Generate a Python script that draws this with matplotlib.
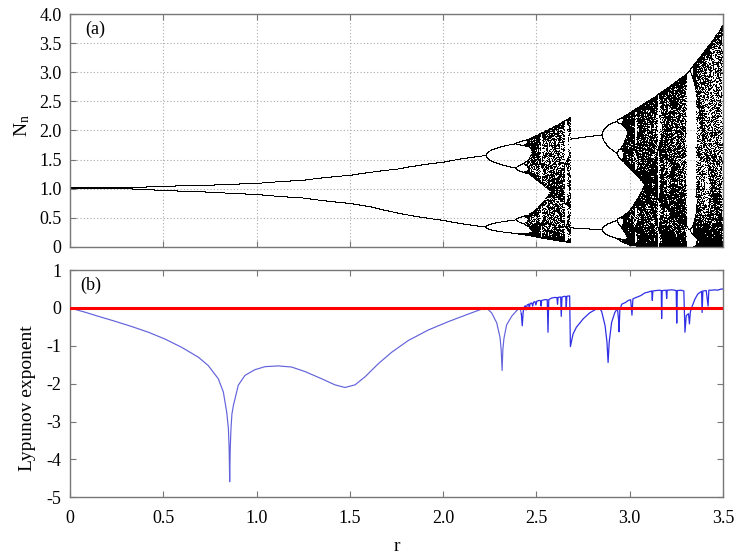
import numpy as np
import matplotlib
matplotlib.use('Agg')
import matplotlib.pyplot as plt

plt.rcParams['font.family'] = 'Liberation Serif'
plt.rcParams['mathtext.fontset'] = 'custom'
plt.rcParams['mathtext.rm'] = 'Liberation Serif'
plt.rcParams['mathtext.it'] = 'Liberation Serif'
plt.rcParams['font.size'] = 13

# --- panel (a): Ricker-type map, rate a(r) and output scale ---
# first attractor, 0 <= r <= 2.68
r1_knots = [0.0, 0.25, 0.5, 0.75, 1.0, 1.25, 1.5, 1.608, 1.75, 2.0, 2.22, 2.39, 2.43, 2.45, 2.68]
a1_knots = [2.0, 2.0001, 2.0011, 2.0033, 2.0084, 2.022, 2.0568, 2.0865, 2.1469, 2.2949, 2.52,
            2.656, 2.684, 2.694, 2.95]
c1_knots = [1.0, 0.998, 0.995, 0.99, 0.985, 0.982, 0.978, 0.975, 0.95, 0.945, 0.945, 0.945,
            0.945, 0.945, 0.945]
s1_knots = [0.852, 0.852, 0.852, 0.852, 0.852, 0.852, 0.852, 0.852, 0.852, 0.852, 0.852, 0.86,
            0.865, 0.87, 0.92]

# second attractor, 2.68 < r <= 3.5
r2_knots = [2.68, 2.85, 2.93, 2.96, 3.00, 3.30, 3.5]
a2_knots = [2.43, 2.526, 2.656, 2.692, 2.74, 3.10, 3.6]
c2_knots = [1.08, 1.10, 1.08, 1.06, 1.05, 1.10, 1.02]
s2_knots = [1.13, 1.13, 1.12, 1.14, 1.16, 1.14, 1.02]

# --- panel (b): Lyapunov exponent ---
lyap_r = [0.000, 0.080, 0.152, 0.241, 0.331, 0.420, 0.509, 0.599, 0.688, 0.741, 0.795, 0.822,
          0.840, 0.849, 0.853, 0.856, 0.859, 0.863, 0.868, 0.876, 0.902, 0.938, 0.991, 1.045,
          1.117, 1.188, 1.260, 1.349, 1.420, 1.474, 1.528, 1.581, 1.653, 1.724, 1.813, 1.921,
          2.028, 2.135, 2.207, 2.233, 2.260, 2.287, 2.305,
          2.311, 2.316, 2.320, 2.326, 2.340, 2.367, 2.394, 2.412, 2.419, 2.424, 2.429, 2.435,
          2.440, 2.445, 2.450, 2.458, 2.462, 2.466, 2.475, 2.480, 2.484, 2.492, 2.497, 2.502,
          2.515, 2.522, 2.525, 2.528, 2.545, 2.558, 2.562, 2.566, 2.580, 2.600, 2.610, 2.613,
          2.616, 2.630, 2.633, 2.637, 2.650, 2.657, 2.660, 2.663, 2.678, 2.682, 2.696, 2.714,
          2.750, 2.785, 2.820, 2.839, 2.850, 2.868, 2.878, 2.884, 2.890, 2.903, 2.920, 2.934,
          2.940, 2.943, 2.947, 2.957, 2.975, 2.993, 3.005, 3.012, 3.017, 3.030, 3.046, 3.060,
          3.082, 3.100, 3.118, 3.121, 3.124, 3.140, 3.160, 3.169, 3.171, 3.174, 3.195, 3.198,
          3.201, 3.225, 3.240, 3.249, 3.252, 3.255, 3.275, 3.290, 3.296, 3.303, 3.315, 3.320,
          3.325, 3.335, 3.350, 3.365, 3.385, 3.388, 3.392, 3.410, 3.420, 3.424, 3.440, 3.457,
          3.470, 3.490, 3.500]
lyap_v = [0.00, -0.11, -0.22, -0.35, -0.49, -0.64, -0.82, -1.04, -1.30, -1.52, -1.87, -2.22,
          -2.75, -3.18, -3.70, -4.59, -3.70, -3.18, -2.80, -2.57, -2.04, -1.78, -1.63, -1.55,
          -1.53, -1.56, -1.68, -1.87, -2.03, -2.10, -2.03, -1.82, -1.47, -1.17, -0.86, -0.58,
          -0.36, -0.16, -0.03, 0.00, -0.13, -0.39, -0.78,
          -1.10, -1.65, -1.10, -0.80, -0.45, -0.22, -0.07, 0.00, -0.15, -0.47, -0.10, 0.03,
          0.06, -0.05, 0.08, 0.10, 0.00, 0.12, 0.13, 0.05, 0.15, 0.17, 0.08, 0.18,
          0.20, 0.19, 0.05, 0.20, 0.22, 0.22, -0.64, 0.22, 0.26, 0.28, 0.27, 0.10,
          0.28, 0.29, -0.22, 0.29, 0.31, 0.30, 0.03, 0.31, 0.32, -1.02, -0.69, -0.51,
          -0.29, -0.13, -0.03, 0.00, -0.10, -0.47, -0.90, -1.44, -0.90, -0.38, -0.12, -0.01,
          -0.30, -0.63, -0.05, 0.10, 0.14, 0.20, 0.22, -0.19, 0.24, 0.27, 0.30, 0.33,
          0.40, 0.42, 0.45, 0.20, 0.45, 0.46, 0.47, 0.46, -0.28, 0.46, 0.47, 0.25,
          0.47, 0.48, 0.47, 0.46, -0.40, 0.46, 0.47, 0.45, -0.64, -0.20, -0.15, -0.42,
          -0.10, 0.05, 0.24, 0.37, 0.44, -0.12, 0.45, 0.46, 0.05, 0.47, 0.47, 0.48,
          0.47, 0.50, 0.50]
n_smooth = 52  # points up to r = 2.412 belong to the periodic (smooth) part

x_ticks = [0, 0.5, 1.0, 1.5, 2.0, 2.5, 3.0, 3.5]
x_labels = ['0', '0.5', '1.0', '1.5', '2.0', '2.5', '3.0', '3.5']
n_ticks = [0, 0.5, 1.0, 1.5, 2.0, 2.5, 3.0, 3.5, 4.0]
n_labels = ['0', '0.5', '1.0', '1.5', '2.0', '2.5', '3.0', '3.5', '4.0']
l_ticks = [1, 0, -1, -2, -3, -4, -5]
l_labels = ['1', '0', '-1', '-2', '-3', '-4', '-5']


def orbit(r_vals, a_vals, c_vals, s_vals, n_skip=3000, n_keep=30):
    N = np.full(len(r_vals), 0.995)
    for _ in range(n_skip):
        N = N * np.exp(a_vals * (1 - N))
    rr, yy = [], []
    for _ in range(n_keep):
        N = N * np.exp(a_vals * (1 - N))
        rr.append(r_vals)
        yy.append(c_vals + s_vals * (N - 1))
    return np.concatenate(rr), np.concatenate(yy)


rg1 = np.linspace(0.0, 2.68, 2400)
rA, yA = orbit(rg1, np.interp(rg1, r1_knots, a1_knots),
               np.interp(rg1, r1_knots, c1_knots), np.interp(rg1, r1_knots, s1_knots),
               n_keep=36)
rg2 = np.linspace(2.6805, 3.5, 2200)
rB, yB = orbit(rg2, np.interp(rg2, r2_knots, a2_knots),
               np.interp(rg2, r2_knots, c2_knots), np.interp(rg2, r2_knots, s2_knots),
               n_keep=26)

fig = plt.figure(figsize=(7.35, 5.54), dpi=100)
ax1 = fig.add_axes([0.0952, 0.5547, 0.8885, 0.4195])
ax2 = fig.add_axes([0.0952, 0.1024, 0.8885, 0.4100])

spine_col = '#777777'
for ax in (ax1, ax2):
    for sp in ax.spines.values():
        sp.set_color(spine_col)
        sp.set_linewidth(1.0)
    ax.tick_params(direction='in', top=True, right=True, length=4, width=0.8,
                   color=spine_col, labelsize=13, pad=6)
    ax.set_xlim(0, 3.5)
    ax.set_xticks(x_ticks)

# (a) bifurcation diagram
ax1.plot(rA, yA, ',', color='black', rasterized=True)
ax1.plot(rB, yB, ',', color='black', rasterized=True)
ax1.set_ylim(0, 4.0)
ax1.set_yticks(n_ticks)
ax1.set_yticklabels(n_labels)
ax1.set_xticklabels([])
ax1.grid(True, color='#aaaaaa', linestyle=(0, (1, 2)), linewidth=0.8)
ax1.set_axisbelow(True)
ax1.text(0.023, 0.937, '(a)', transform=ax1.transAxes, ha='left', va='center', fontsize=13)

# (b) Lyapunov exponent
ax2.plot(lyap_r[:n_smooth], lyap_v[:n_smooth], color='#6262dc', lw=0.85, zorder=2)
ax2.plot(lyap_r[n_smooth - 1:], lyap_v[n_smooth - 1:], color='#2f2fe6', lw=0.9, zorder=2)
ax2.axhline(0, color='#ff0000', lw=2.2, zorder=3)
ax2.set_ylim(-5, 1)
ax2.set_yticks(l_ticks)
ax2.set_yticklabels(l_labels)
ax2.set_xticklabels(x_labels)
ax2.tick_params(axis='x', pad=9)
ax2.text(0.016, 0.932, '(b)', transform=ax2.transAxes, ha='left', va='center', fontsize=13)

fig.text(0.030, 0.774, r'$\mathrm{N_n}$', rotation=90, ha='center', va='center', fontsize=14)
fig.text(0.037, 0.282, 'Lypunov exponent', rotation=90, ha='center', va='center', fontsize=14)
fig.text(0.5395, 0.014, 'r', ha='center', va='center', fontsize=14)

fig.savefig('out.png', dpi=100)
plt.close(fig)
